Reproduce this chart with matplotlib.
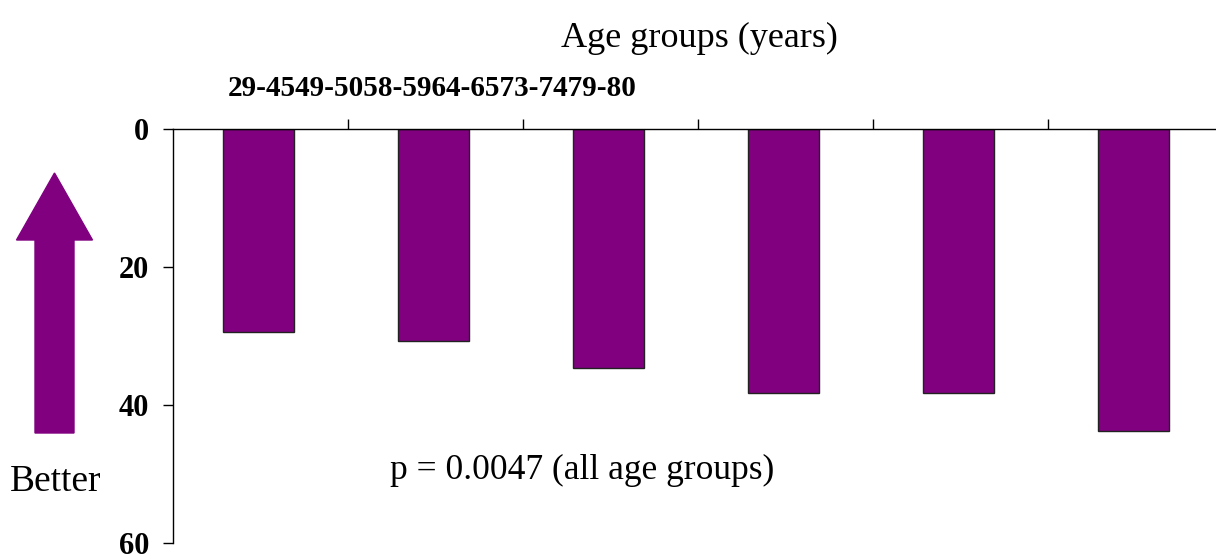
import numpy as np
import matplotlib.pyplot as plt
import matplotlib.patches as mpatches

# age groups and mean scores
age_groups = ["29-45", "49-50", "58-59", "64-65", "73-74", "79-80"]
scores = [29.4, 30.7, 34.6, 38.3, 38.3, 43.8]
y_ticks = [0, 20, 40, 60]

plt.rcParams['font.family'] = ['Liberation Serif', 'DejaVu Serif']

fig = plt.figure(figsize=(12.16, 5.57), dpi=100)
ax = fig.add_axes([173 / 1216, 1 - 543 / 557, 1050 / 1216, (543 - 129) / 557])

x = np.arange(len(age_groups))
ax.bar(x - 0.01, scores, width=0.405, color='#800080', edgecolor='#222222', linewidth=1.0)

ax.set_xlim(-0.5, len(age_groups) - 0.5)
ax.set_ylim(60, 0)  # inverted: lower is better

ax.spines['right'].set_visible(False)
ax.spines['bottom'].set_visible(False)
ax.spines['top'].set_linewidth(1.0)
ax.spines['left'].set_linewidth(1.0)

ax.xaxis.tick_top()
ax.set_xticks(x[:-1] + 0.5)
ax.set_xticklabels([])
ax.tick_params(axis='x', direction='out', length=7, width=1.0)

ax.set_yticks(y_ticks)
ax.set_yticklabels([str(v) for v in y_ticks], fontsize=22, fontweight='bold')
ax.tick_params(axis='y', direction='out', length=7, width=1.0, pad=10)

# category labels end up squashed together at the top left
fig.text(228 / 1216, 1 - 88 / 557, "".join(age_groups), fontsize=21,
         fontweight='bold', ha='left', va='center')

fig.text(699 / 1216, 1 - 38 / 557, "Age groups (years)", fontsize=26,
         ha='center', va='center')

fig.text(390 / 1216, 1 - 470 / 557, "p = 0.0047 (all age groups)", fontsize=25.5,
         ha='left', va='center')

fig.text(56 / 1216, 1 - 482 / 557, "Better", fontsize=27, ha='center', va='center')

# "better" arrow pointing up, drawn in inches
arrow = mpatches.FancyArrow(0.545, (557 - 433) / 100, 0, (433 - 173) / 100,
                            width=0.39, head_width=0.76, head_length=0.67,
                            length_includes_head=True, color='#800080',
                            transform=fig.dpi_scale_trans)
fig.patches.append(arrow)

plt.savefig("out.png", dpi=100)
